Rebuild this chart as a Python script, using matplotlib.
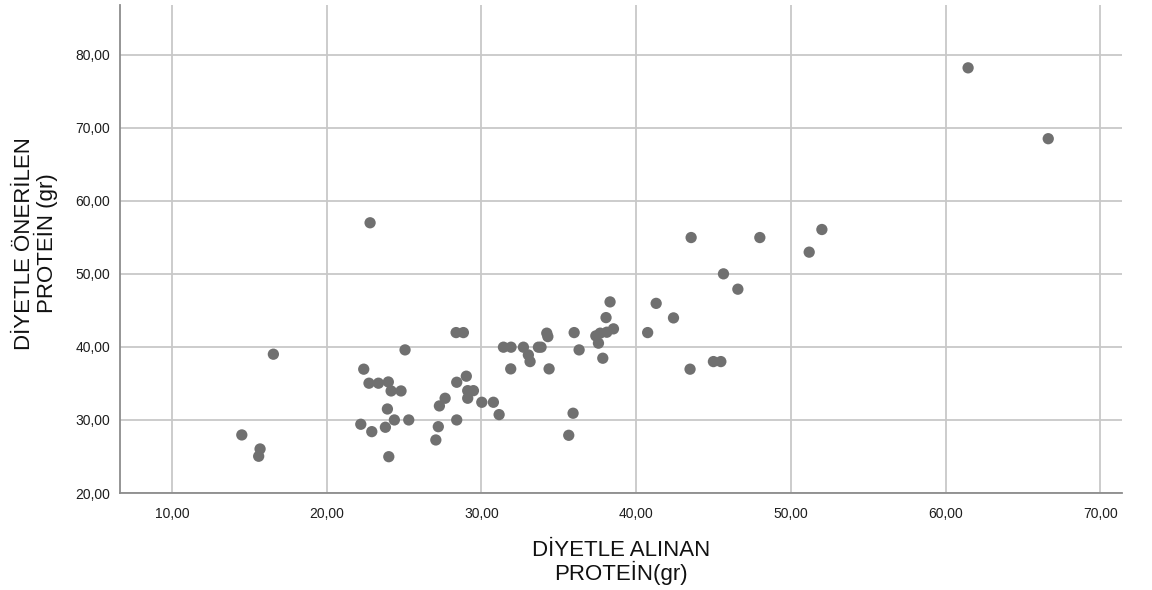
import matplotlib
matplotlib.use("Agg")
import matplotlib.pyplot as plt
from matplotlib.ticker import FuncFormatter

# Dietary protein intake (x) vs recommended protein (y), grams
alinan = [
    14.51, 15.69, 15.60, 16.55, 22.20, 22.39, 22.80, 22.73, 22.91, 23.34,
    23.98, 23.79, 23.92, 24.01, 24.16, 24.37, 24.80, 25.06, 25.30, 27.05,
    27.21, 27.28, 27.65, 28.36, 28.40, 28.40, 28.83, 29.02, 29.11, 29.11,
    29.48, 30.02, 30.77, 31.14, 31.42, 31.91, 31.89, 32.71, 33.03, 33.14,
    33.68, 33.85, 34.22, 34.29, 34.37, 35.99, 36.31, 35.64, 35.92, 38.31,
    38.05, 38.53, 38.10, 37.67, 37.39, 37.56, 37.84, 41.29, 40.74, 42.41,
    43.48, 44.99, 45.47, 43.55, 47.99, 45.64, 46.57, 52.00, 51.18, 61.45,
    66.63,
]
onerilen = [
    27.95, 26.03, 25.03, 39.00, 29.41, 36.95, 56.99, 35.03, 28.40, 35.03,
    35.20, 29.00, 31.50, 24.97, 33.97, 30.00, 33.97, 39.59, 30.00, 27.26,
    29.08, 31.92, 32.97, 41.96, 30.00, 35.16, 41.96, 35.99, 34.01, 32.97,
    34.01, 32.42, 32.42, 30.73, 39.96, 39.96, 36.99, 39.96, 38.90, 37.99,
    39.96, 39.96, 41.88, 41.41, 36.99, 41.96, 39.59, 27.90, 30.92, 46.16,
    44.01, 42.47, 42.01, 41.88, 41.51, 40.51, 38.45, 45.96, 41.96, 43.97,
    36.95, 37.99, 37.99, 54.97, 54.97, 50.00, 47.90, 56.07, 52.97, 78.20,
    68.50,
]
x_ticks = [10, 20, 30, 40, 50, 60, 70]
y_ticks = [20, 30, 40, 50, 60, 70, 80]

plt.rcParams["font.family"] = ["Liberation Sans", "DejaVu Sans"]

fig = plt.figure(figsize=(11.52, 5.9), dpi=100)
ax = fig.add_axes([0.1042, 0.1644, 0.8698, 0.8271])

ax.scatter(alinan, onerilen, s=66, color="#707070", edgecolors="none", zorder=3)

ax.set_xlim(6.64, 71.4)
ax.set_ylim(20, 86.8)
ax.set_xticks(x_ticks)
ax.set_yticks(y_ticks)

fmt = FuncFormatter(lambda v, pos: f"{v:.2f}".replace(".", ","))
ax.xaxis.set_major_formatter(fmt)
ax.yaxis.set_major_formatter(fmt)

ax.grid(True, color="#c8c8c8", linewidth=1.3, zorder=0)
ax.set_axisbelow(True)
ax.tick_params(axis="both", length=0, labelsize=10, colors="#1e1e1e")
ax.tick_params(axis="x", pad=10)
ax.tick_params(axis="y", pad=7)

for side in ["top", "right"]:
    ax.spines[side].set_visible(False)
for side in ["left", "bottom"]:
    ax.spines[side].set_color("#8c8c8c")
    ax.spines[side].set_linewidth(1.3)

ax.set_xlabel("DİYETLE ALINAN\nPROTEİN(gr)", fontsize=16, linespacing=0.95,
              color="#111111")
ax.set_ylabel("DİYETLE ÖNERİLEN\nPROTEİN (gr)", fontsize=16, linespacing=0.95,
              color="#111111")
ax.xaxis.set_label_coords(0.5, -0.097)
ax.yaxis.set_label_coords(-0.062, 0.512)

plt.savefig("out.png", dpi=100)
